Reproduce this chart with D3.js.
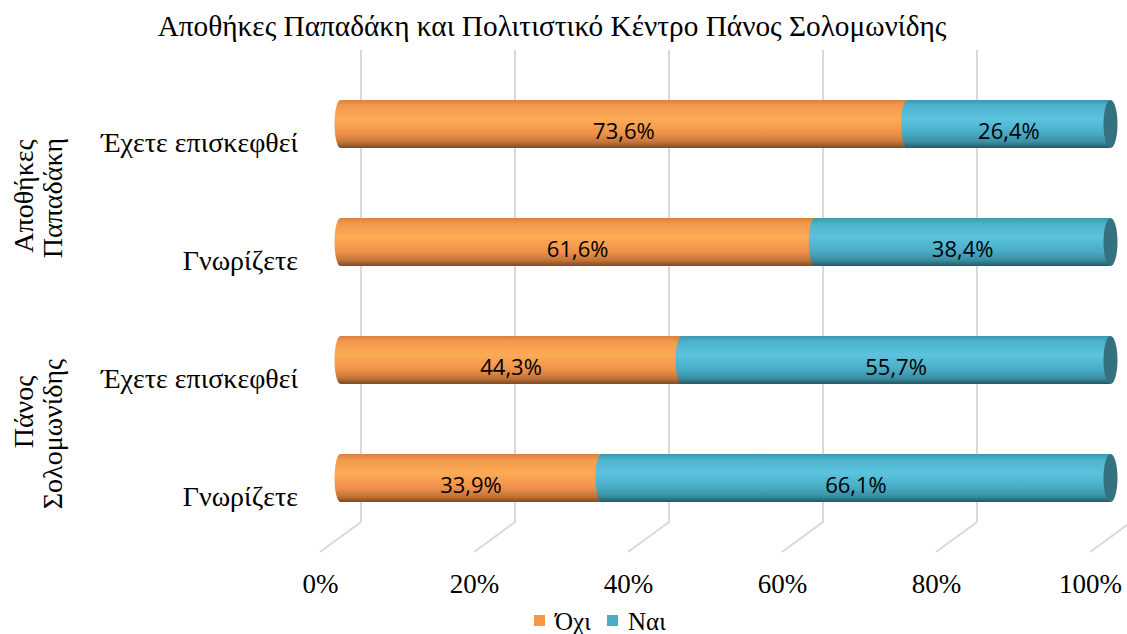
<!doctype html>
<html lang="el">
<head>
<meta charset="utf-8">
<title>Αποθήκες Παπαδάκη και Πολιτιστικό Κέντρο Πάνος Σολομωνίδης</title>
<script src="https://d3js.org/d3.v7.min.js"></script>
<style>
  body { margin: 0; background: #fff; }
  .serif { font-family: "Liberation Serif", "DejaVu Serif", serif; fill: #000; }
  .lbl { font-family: "Open Sans", "Liberation Sans", sans-serif; font-size: 22px; fill: #000; }
  .grid { stroke: #d9d9d9; stroke-width: 2; fill: none; }
</style>
</head>
<body>
<svg id="chart" width="1127" height="634"></svg>
<script>
// DATA
const title = "Αποθήκες Παπαδάκη και Πολιτιστικό Κέντρο Πάνος Σολομωνίδης";
const categories = ["Έχετε επισκεφθεί", "Γνωρίζετε", "Έχετε επισκεφθεί", "Γνωρίζετε"];
const groupOf = [0, 0, 1, 1];
const groups = [["Αποθήκες", "Παπαδάκη"], ["Πάνος", "Σολομωνίδης"]];
const seriesNames = ["Όχι", "Ναι"];
const ochi = [73.6, 61.6, 44.3, 33.9];
const nai = [26.4, 38.4, 55.7, 66.1];
const ticks = [0, 20, 40, 60, 80, 100];

const svg = d3.select("#chart");

// 3d depth offsets (front floor -> back wall)
const depthX = 41, depthY = -30;
const floorY = 552, topY = 80;

const x = d3.scaleLinear().domain([0, 100]).range([320, 1090]);   // front plane
const y = d3.scaleBand().domain(d3.range(categories.length)).range([topY, floorY]);

const barH = 48, rx = 6;
const midX = v => x(v) + depthX / 2;
const midY = i => y(i) + y.bandwidth() / 2 + depthY / 2;

// gradients
const defs = svg.append("defs");
function grad(id, stops) {
  const g = defs.append("linearGradient").attr("id", id)
    .attr("x1", 0).attr("y1", 0).attr("x2", 0).attr("y2", 1);
  stops.forEach(s => g.append("stop").attr("offset", s[0]).attr("stop-color", s[1]));
}
grad("gOrange", [[0, "#d9803f"], [0.12, "#f3994e"], [0.4, "#fdab55"], [0.7, "#ef914a"], [0.88, "#c2743a"], [1, "#7d4a22"]]);
grad("gBlue", [[0, "#3b98ae"], [0.12, "#4db3cc"], [0.4, "#5bc3de"], [0.7, "#48abc4"], [0.88, "#3a8da1"], [1, "#215866"]]);
const fills = ["url(#gOrange)", "url(#gBlue)"];
const capFill = "#35717f";
const legendColors = ["#f79646", "#4bacc6"];

// title
svg.append("text").attr("class", "serif")
  .attr("x", 552).attr("y", 36)
  .attr("text-anchor", "middle").style("font-size", "29.3px")
  .text(title);

// gridlines: back wall + floor diagonal
svg.append("g").selectAll("path").data(ticks).join("path")
  .attr("class", "grid")
  .attr("d", t => `M${x(t) + depthX},${topY + depthY}V${floorY + depthY}L${x(t)},${floorY}`);

// bars
const rows = categories.map((c, i) => ({ i, vals: [ochi[i], nai[i]] }));
const gBars = svg.append("g");
rows.forEach(r => {
  const cy = midY(r.i), top = cy - barH / 2, bot = cy + barH / 2;
  let acc = 0;
  r.vals.forEach((v, k) => {
    const x0 = midX(acc), x1 = midX(acc + v);
    gBars.append("path")
      .attr("d", `M${x0},${top}L${x1},${top}L${x1},${bot}L${x0},${bot}A${rx},${barH / 2} 0 0 1 ${x0},${top}Z`)
      .attr("fill", fills[k]);
    acc += v;
  });
  // right end cap
  gBars.append("ellipse")
    .attr("cx", midX(100)).attr("cy", cy)
    .attr("rx", rx + 1).attr("ry", barH / 2)
    .attr("fill", capFill);
  // labels
  acc = 0;
  r.vals.forEach((v, k) => {
    gBars.append("text").attr("class", "lbl")
      .attr("x", midX(acc + v / 2)).attr("y", cy + 7)
      .attr("dy", "0.36em").attr("text-anchor", "middle")
      .text(d3.format(".1f")(v).replace(".", ",") + "%");
    acc += v;
  });
});

// x axis
const xAxis = svg.append("g")
  .attr("transform", `translate(0,${floorY + 22})`)
  .call(d3.axisBottom(x).tickValues(ticks).tickFormat(d => d + "%").tickSize(0).tickPadding(0));
xAxis.select(".domain").remove();
xAxis.selectAll("text").attr("class", "serif").attr("fill", "#000")
  .style("font-size", "27px");

// y axis (category labels)
const yAxis = svg.append("g")
  .attr("transform", "translate(298,0)")
  .call(d3.axisLeft(y).tickFormat(i => categories[i]).tickSize(0).tickPadding(0));
yAxis.select(".domain").remove();
yAxis.selectAll("text").attr("class", "serif").attr("fill", "#000")
  .attr("dy", "0.46em").style("font-size", "28px");

// group labels (rotated, two lines)
const firstLineShift = [2, 22];
groups.forEach((g, gi) => {
  const idx = d3.range(categories.length).filter(i => groupOf[i] === gi);
  const cy = (y(idx[0]) + y(idx[idx.length - 1]) + y.bandwidth()) / 2;
  const t = svg.append("text").attr("class", "serif")
    .attr("transform", `translate(33,${cy}) rotate(-90)`)
    .attr("text-anchor", "middle").style("font-size", "28px");
  g.forEach((line, li) => t.append("tspan")
    .attr("x", li === 0 ? firstLineShift[gi] : 0).attr("y", li * 29).text(line));
});

// legend
const leg = svg.append("g").attr("transform", "translate(534,615)");
const legX = [0, 73];
seriesNames.forEach((s, k) => {
  leg.append("rect").attr("x", legX[k]).attr("y", 0).attr("width", 11).attr("height", 11)
    .attr("fill", legendColors[k]);
  leg.append("text").attr("class", "serif").attr("x", legX[k] + 21).attr("y", 15)
    .style("font-size", "25px").text(s);
});
</script>
</body>
</html>
